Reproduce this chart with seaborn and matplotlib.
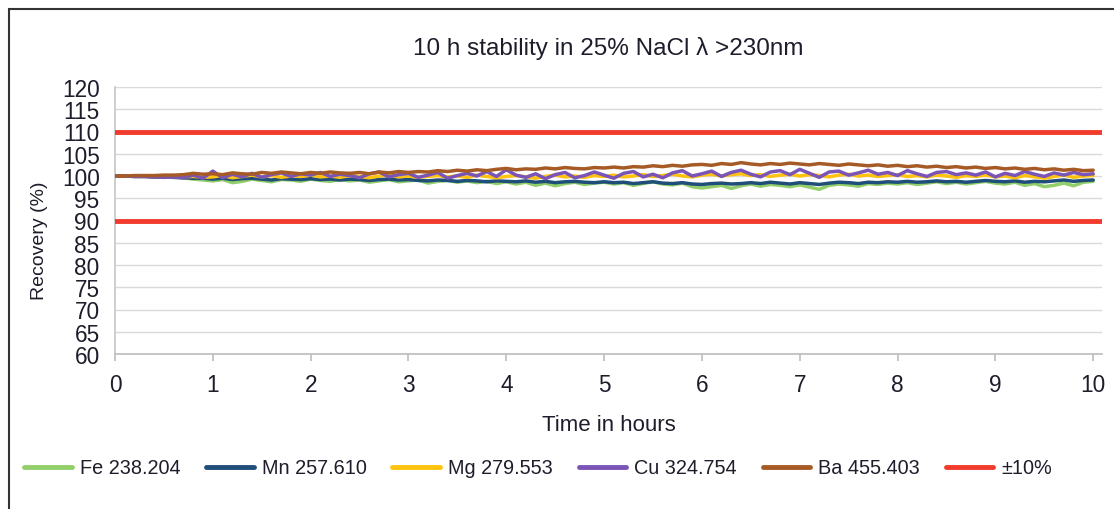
import numpy as np
import pandas as pd
import matplotlib
matplotlib.use("Agg")
import matplotlib.pyplot as plt
from matplotlib.patches import Rectangle
from matplotlib.lines import Line2D
import seaborn as sns

hours = np.round(np.arange(0, 101) / 10, 1)

fe = [100.0, 100.0, 99.9, 99.9, 99.8, 99.8, 99.7, 99.6, 99.3, 99.1,
      98.9, 99.2, 98.5, 98.8, 99.3, 99.0, 98.7, 99.2, 99.1, 98.8,
      99.3, 99.0, 98.8, 99.2, 98.9, 99.1, 98.6, 98.9, 99.2, 98.7,
      98.9, 99.1, 98.4, 98.8, 99.0, 98.6, 98.9, 98.5, 98.8, 98.3,
      98.7, 98.2, 98.6, 97.9, 98.4, 97.8, 98.3, 98.6, 98.1, 98.4,
      98.6, 98.2, 98.5, 97.9, 98.3, 98.7, 98.2, 98.0, 98.4, 97.6,
      97.3, 97.6, 97.9, 97.2, 97.8, 98.2, 97.7, 98.1, 97.9, 97.6,
      98.0, 97.5, 97.0, 97.9, 98.2, 98.0, 97.7, 98.3, 98.1, 98.4,
      98.2, 98.5, 98.1, 98.4, 98.7, 98.3, 98.6, 98.2, 98.5, 98.8,
      98.4, 98.2, 98.6, 97.9, 98.3, 97.6, 97.9, 98.4, 97.8, 98.6, 98.8]

mn = [100.0, 100.0, 99.9, 99.9, 99.8, 99.8, 99.7, 99.6, 99.5, 99.5,
      99.3, 99.5, 99.2, 99.4, 99.5, 99.3, 99.1, 99.4, 99.3, 99.2,
      99.4, 99.2, 99.3, 99.1, 99.3, 99.2, 99.0, 99.2, 99.3, 99.1,
      99.2, 99.0, 98.9, 99.1, 99.0, 98.8, 99.0, 98.9, 98.7, 98.9,
      98.8, 98.7, 98.9, 98.6, 98.8, 98.5, 98.7, 98.8, 98.6, 98.5,
      98.7, 98.5, 98.6, 98.3, 98.5, 98.7, 98.4, 98.3, 98.5, 98.2,
      98.1, 98.3, 98.4, 98.2, 98.3, 98.5, 98.3, 98.6, 98.4, 98.2,
      98.5, 98.3, 98.1, 98.4, 98.6, 98.5, 98.3, 98.6, 98.5, 98.7,
      98.6, 98.8, 98.6, 98.7, 98.9, 98.7, 98.8, 98.6, 98.8, 99.0,
      98.8, 98.7, 98.9, 98.6, 98.8, 98.7, 98.9, 99.1, 98.8, 99.0, 99.1]

mg = [100.0, 100.0, 100.0, 100.0, 99.9, 99.9, 99.9, 99.8, 99.9, 99.7,
      99.8, 100.1, 99.6, 99.9, 100.2, 99.8, 100.1, 99.7, 100.0, 99.9,
      100.2, 99.8, 100.0, 99.7, 100.1, 99.9, 99.6, 100.0, 100.2, 99.8,
      100.0, 99.7, 99.9, 100.1, 99.8, 100.0, 99.7, 100.2, 99.9, 99.6,
      99.9, 100.1, 99.8, 99.5, 99.9, 100.2, 99.8, 100.0, 99.7, 100.1,
      99.9, 100.2, 99.8, 100.0, 100.3, 99.9, 100.1, 100.4, 100.0, 99.8,
      100.2, 100.4, 100.0, 100.3, 100.5, 100.1, 100.3, 99.9, 100.2, 100.4,
      100.0, 100.3, 100.1, 99.8, 100.2, 100.4, 100.0, 100.2, 99.9, 100.1,
      100.3, 99.9, 100.1, 99.8, 100.2, 100.0, 99.7, 100.1, 99.9, 100.2,
      99.8, 100.0, 99.6, 100.1, 99.8, 99.5, 99.9, 100.2, 99.7, 100.0, 100.1]

cu = [100.0, 100.0, 99.9, 99.9, 99.8, 99.7, 99.8, 99.6, 100.2, 99.5,
      101.1, 99.6, 100.4, 99.8, 100.6, 99.7, 100.3, 100.7, 99.9, 100.5,
      100.2, 100.8, 99.9, 100.4, 100.1, 99.6, 100.5, 100.9, 99.8, 100.3,
      100.6, 99.7, 100.2, 100.8, 99.5, 100.1, 100.6, 100.0, 101.0, 99.9,
      101.4, 100.2, 99.7, 100.5, 99.4, 100.3, 100.8, 99.6, 100.1, 100.9,
      100.2, 99.5, 100.6, 101.0, 99.8, 100.4, 99.6, 100.7, 101.2, 100.0,
      100.5, 101.1, 99.9, 100.8, 101.3, 100.4, 99.8, 100.9, 101.2, 100.3,
      101.5, 100.6, 99.7, 100.9, 101.1, 100.2, 100.7, 101.3, 100.4, 100.8,
      100.1, 101.2, 100.5, 99.9, 100.8, 101.0, 100.3, 100.7, 100.2, 100.9,
      99.8, 100.6, 100.1, 101.0, 100.4, 99.9, 100.7, 100.2, 100.8, 100.3, 100.5]

ba = [100.0, 100.0, 100.1, 100.1, 100.1, 100.2, 100.2, 100.3, 100.6, 100.4,
      100.5, 100.3, 100.7, 100.5, 100.4, 100.8, 100.6, 100.9, 100.7, 100.5,
      100.8, 100.6, 100.9, 100.7, 100.6, 100.8, 100.5, 100.9, 100.7, 101.0,
      100.8, 101.0, 100.9, 101.2, 101.0, 101.3, 101.1, 101.4, 101.2, 101.5,
      101.7, 101.4, 101.6, 101.5, 101.8, 101.6, 101.9, 101.7, 101.6, 101.9,
      101.8, 102.0, 101.8, 102.1, 102.0, 102.3, 102.1, 102.4, 102.2, 102.5,
      102.6, 102.4, 102.8, 102.6, 103.0, 102.7, 102.5, 102.8, 102.6, 102.9,
      102.7, 102.5, 102.8, 102.6, 102.4, 102.7, 102.5, 102.3, 102.5, 102.2,
      102.4, 102.1, 102.3, 102.0, 102.2, 101.9, 102.1, 101.8, 102.0, 101.7,
      101.9, 101.6, 101.8, 101.5, 101.7, 101.4, 101.6, 101.3, 101.5, 101.2, 101.3]

series_names = ["Fe 238.204", "Mn 257.610", "Mg 279.553", "Cu 324.754", "Ba 455.403"]
limits = [110, 90]
limit_label = "±10%"

colors = {"Fe 238.204": "#92cf6a", "Mn 257.610": "#1f4e78", "Mg 279.553": "#ffc20e",
          "Cu 324.754": "#7b55b5", "Ba 455.403": "#a65b27"}
red = "#f23b2c"
txt = "#1d1d2b"

df = pd.concat([pd.DataFrame({"Time": hours, "Recovery": v, "Element": n})
                for n, v in zip(series_names, [fe, mn, mg, cu, ba])], ignore_index=True)

sns.set_theme(style="white")
plt.rcParams["font.family"] = ["Liberation Sans", "DejaVu Sans"]

fig = plt.figure(figsize=(11.14, 5.10), dpi=100)
ax = fig.add_axes([115/1114, 1-355/510, (1102-115)/1114, (355-88)/510])

ax.set_yticks(np.arange(60, 121, 5))
ax.yaxis.grid(True, color="#d9d9d9", lw=1)
for y in limits:
    ax.axhline(y, color=red, lw=3.5, zorder=3)

sns.lineplot(data=df, x="Time", y="Recovery", hue="Element", hue_order=series_names,
             palette=colors, lw=2.5, ax=ax, legend=False, zorder=4)

ax.set_xlim(0, 10.09)
ax.set_ylim(60, 120)
ax.set_xticks(range(0, 11))
for s in ["top", "right"]:
    ax.spines[s].set_visible(False)
ax.spines["left"].set_color("#c8c8c8")
ax.spines["bottom"].set_color("#bfbfbf")
ax.tick_params(axis="x", bottom=True, length=5, color="#bfbfbf", labelsize=16.3, labelcolor=txt, pad=9)
ax.tick_params(axis="y", left=False, labelsize=16.3, labelcolor=txt, pad=5)
ax.set_xlabel("Time in hours", fontsize=16, color=txt, labelpad=13)
ax.set_ylabel("Recovery (%)", fontsize=14, color=txt)
ax.yaxis.set_label_coords(-0.068, 1 - (241 - 88) / 267)
ax.set_title("10 h stability in 25% NaCl λ >230nm", fontsize=17.5, color=txt, pad=24)

handles = [Line2D([0], [0], color=colors[n], lw=3.5) for n in series_names]
handles.append(Line2D([0], [0], color=red, lw=3.5))
labels = series_names + [limit_label]
leg = fig.legend(handles, labels, ncol=6, loc="center", bbox_to_anchor=(0.483, 1-469/510),
                 frameon=False, fontsize=14.3, handlelength=2.4, handletextpad=0.4,
                 columnspacing=1.3)
for t in leg.get_texts():
    t.set_color(txt)

fig.add_artist(Rectangle((9/1114, -0.2), 2.0, 1.2 - 10/510, transform=fig.transFigure,
                         fill=False, edgecolor="#333333", lw=1.5))

fig.savefig("out.png", dpi=100)
